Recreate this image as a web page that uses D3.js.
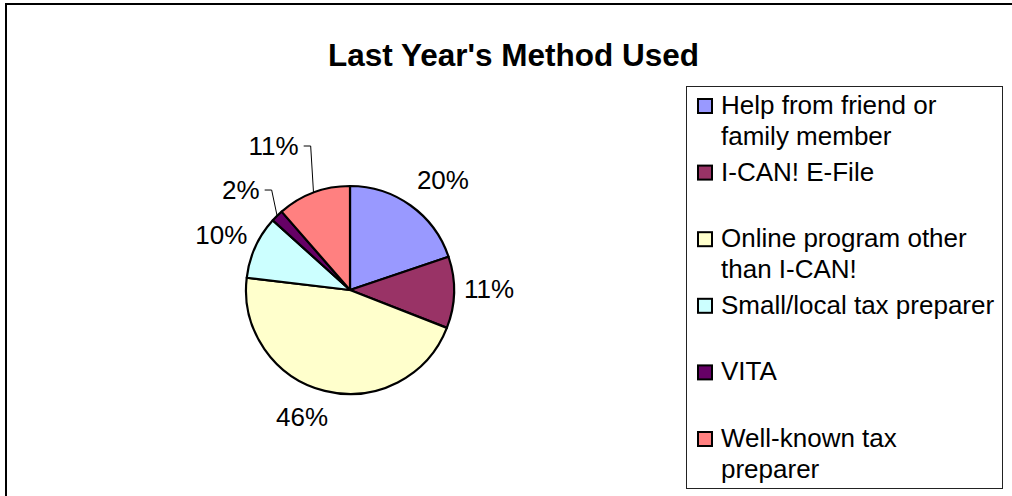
<!DOCTYPE html>
<html>
<head>
<meta charset="utf-8">
<script src="https://cdn.jsdelivr.net/npm/d3@7"></script>
<style>
  html, body { margin: 0; padding: 0; background: #fff; }
  svg { display: block; font-family: "Liberation Sans", Arial, sans-serif; }
</style>
</head>
<body>
<svg class="chart"></svg>
<script>
// data (shares in percent, clockwise from 12 o'clock)
const categories = [
    "Help from friend or family member",
    "I-CAN! E-File",
    "Online program other than I-CAN!",
    "Small/local tax preparer",
    "VITA",
    "Well-known tax preparer"
];
const shares = [19.8, 11.1, 45.9, 9.8, 1.9, 11.4];
const colors = ["#9999FF", "#993366", "#FFFFCC", "#CCFFFF", "#660066", "#FF8080"];
// legend wrapping as in the original
const legendLines = [
    ["Help from friend or", "family member"],
    ["I-CAN! E-File"],
    ["Online program other", "than I-CAN!"],
    ["Small/local tax preparer"],
    ["VITA"],
    ["Well-known tax", "preparer"]
];

const svgWidth = 1012, svgHeight = 496;
const cx = 350, cy = 290, radius = 104;

// label placement: distance from centre and turn from the slice mid angle (deg)
const labelDist = [144, 139, 136, 140, 148, 163];
const labelTurn = [4.5, -1.7, 6.6, -1.3, -3, -7.4];

const svg = d3.select("svg.chart")
    .attr("width", svgWidth)
    .attr("height", svgHeight);

// chart area frame (runs off the right / bottom of the picture)
svg.append("rect")
    .attr("x", 6)
    .attr("y", 4)
    .attr("width", svgWidth + 20)
    .attr("height", svgHeight + 20)
    .attr("fill", "#fff")
    .attr("stroke", "#000")
    .attr("stroke-width", 2);

svg.append("text")
    .attr("x", 513.5)
    .attr("y", 66)
    .attr("text-anchor", "middle")
    .style("font-size", "31.5px")
    .style("font-weight", "bold")
    .text("Last Year's Method Used");

const total = d3.sum(shares);
const pie = d3.pie().sort(null).value(d => d);
const arcs = pie(shares);
const arc = d3.arc().innerRadius(0).outerRadius(radius);

const g = svg.append("g")
    .attr("transform", "translate(" + cx + "," + cy + ")");

g.selectAll("path.slice")
    .data(arcs)
    .enter()
    .append("path")
    .attr("class", "slice")
    .attr("d", arc)
    .attr("fill", (d, i) => colors[i])
    .attr("stroke", "#000")
    .attr("stroke-width", 2.2)
    .attr("stroke-linejoin", "round");

const fmt = d => Math.round(d / total * 100) + "%";

arcs.forEach((d, i) => {
    const mid = (d.startAngle + d.endAngle) / 2;
    const a = mid + labelTurn[i] * Math.PI / 180;
    const lx = Math.sin(a) * labelDist[i];
    const ly = -Math.cos(a) * labelDist[i];

    const t = g.append("text")
        .attr("x", lx)
        .attr("y", ly)
        .attr("dy", "0.35em")
        .attr("text-anchor", "middle")
        .style("font-size", "26px")
        .attr("fill", "#000")
        .text(fmt(d.value));

    // dragged labels get an elbow leader to the slice edge
    if (labelDist[i] > 145) {
        const w = t.node().getComputedTextLength();
        const x0 = lx + w / 2 + 5;
        const x1 = x0 + 7;
        const ex = Math.sin(mid) * radius;
        const ey = -Math.cos(mid) * radius;
        g.append("polyline")
            .attr("points", [[x0, ly], [x1, ly], [ex, ey]].map(p => p.join(",")).join(" "))
            .attr("fill", "none")
            .attr("stroke", "#000")
            .attr("stroke-width", 1);
    }
});

// legend
const legend = svg.append("g");
legend.append("rect")
    .attr("x", 686.5)
    .attr("y", 86.5)
    .attr("width", 316)
    .attr("height", 402)
    .attr("fill", "#fff")
    .attr("stroke", "#222")
    .attr("stroke-width", 1);

const rowY = d3.scaleLinear().domain([0, categories.length - 1]).range([114, 447]);

categories.forEach((c, i) => {
    const y = rowY(i);
    legend.append("rect")
        .attr("x", 698)
        .attr("y", y - 15)
        .attr("width", 14)
        .attr("height", 14)
        .attr("fill", colors[i])
        .attr("stroke", "#000")
        .attr("stroke-width", 2);
    const t = legend.append("text")
        .attr("x", 721)
        .attr("y", y)
        .style("font-size", "26px")
        .attr("fill", "#000");
    legendLines[i].forEach((line, j) => {
        t.append("tspan")
            .attr("x", 721)
            .attr("y", y + j * 31)
            .text(line);
    });
});
</script>
</body>
</html>
